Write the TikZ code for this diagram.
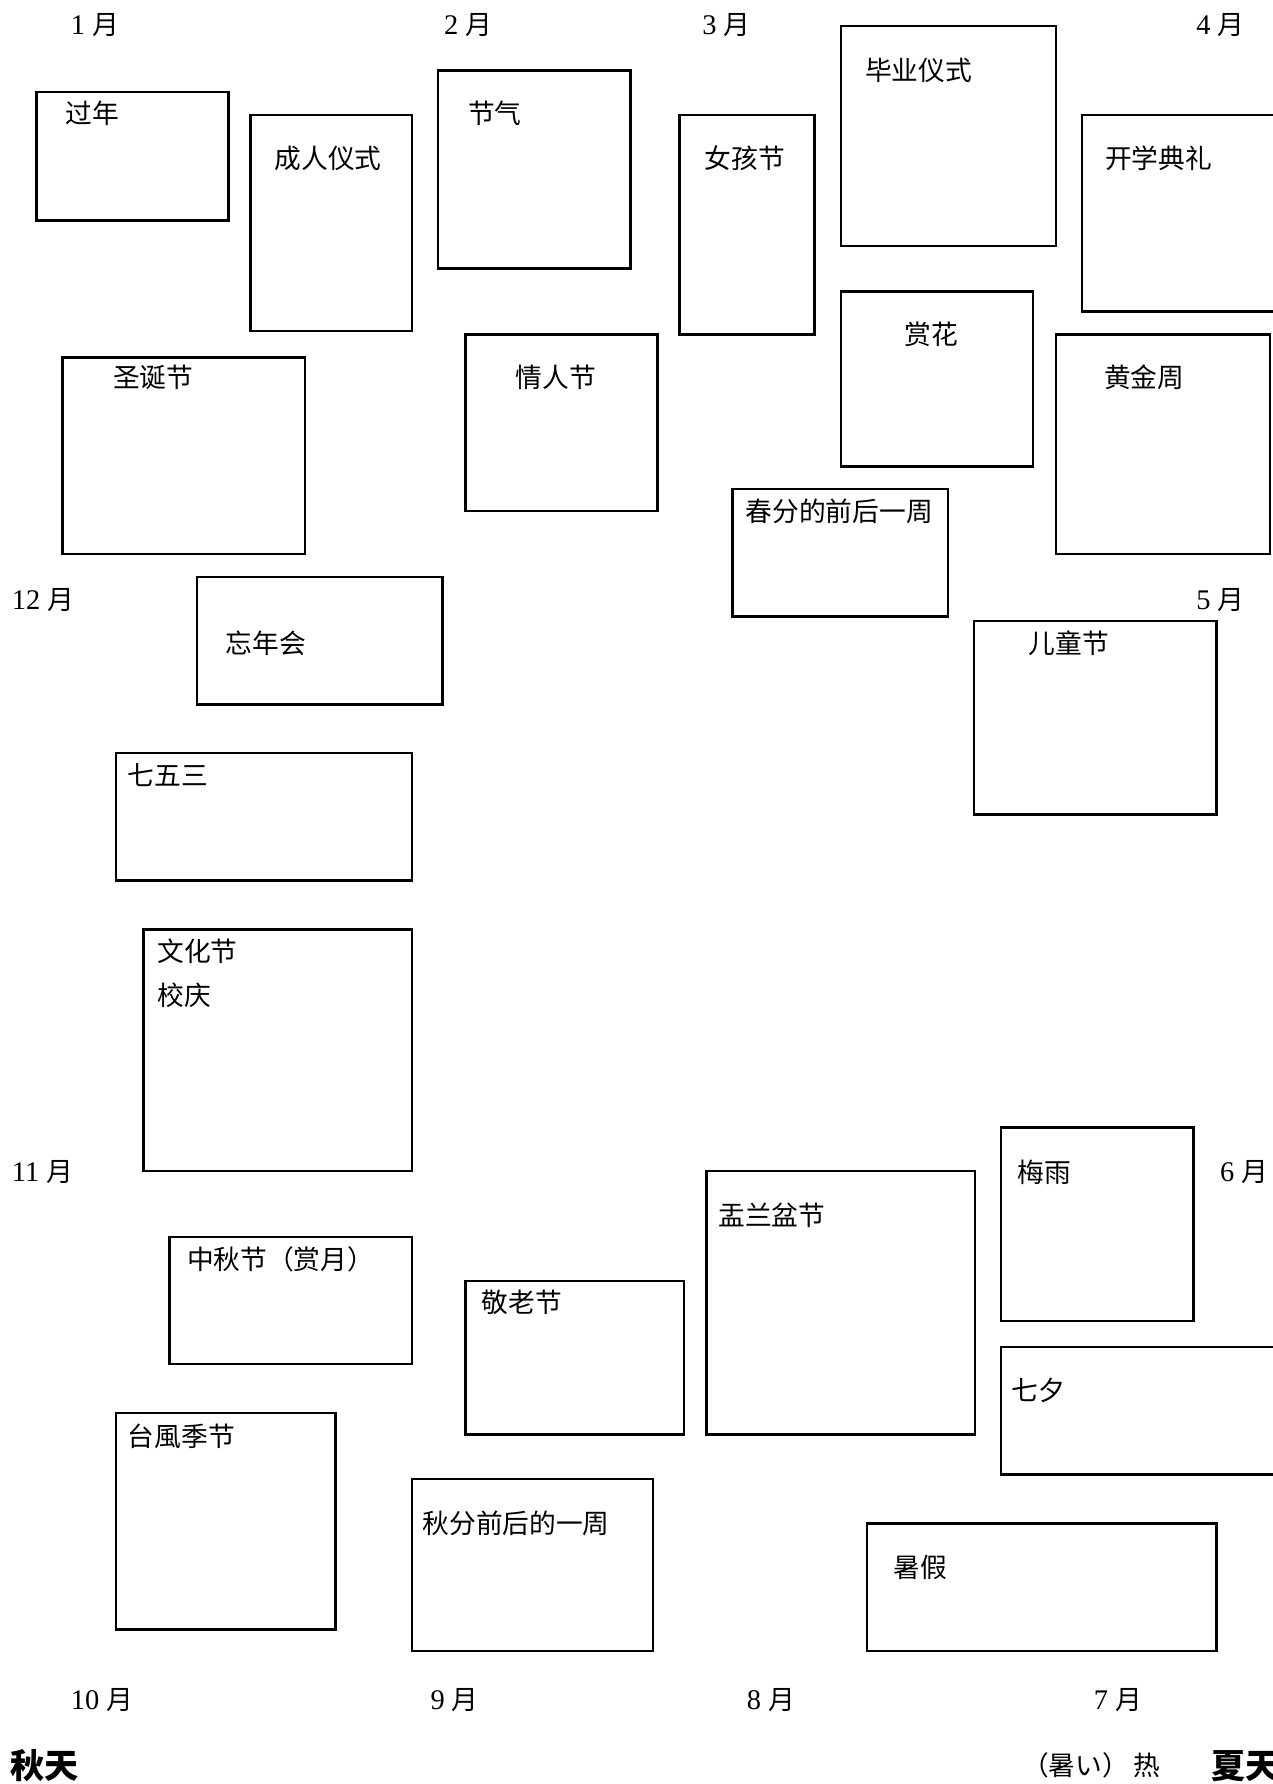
\documentclass[tikz,border=0pt]{standalone}
\usepackage{fontspec}
\setmainfont{Liberation Serif}
\newfontfamily\cjk{Noto Sans CJK SC}
\usetikzlibrary{positioning,fit}
\tikzset{evt/.style={draw, line width=1.1pt, inner sep=0pt},
         txt/.style={inner sep=0pt, anchor=west, font=\cjk\fontsize{11.75}{14}\selectfont},
         mon/.style={inner sep=0pt, anchor=west, font=\fontsize{12.5}{14}\selectfont},
         season/.style={inner sep=0pt, anchor=west, font=\cjk\bfseries\fontsize{15}{18}\selectfont}}
\newcommand{\yue}[1]{#1\ {\cjk\fontsize{11.75}{14}\selectfont 月}}

\begin{document}
\begin{tikzpicture}[x=0.5pt, y=-0.5pt]
				\useasboundingbox (0,0) rectangle (1118,1568);
				% months round the page
				\node (m1) 	[mon] at (62,22) 		{\yue{1}};
				\node (m2) 	[mon] at (390,22) 	{\yue{2}};
				\node (m3) 	[mon] at (617,22) 	{\yue{3}};
				\node (m4) 	[mon] at (1051,22) 	{\yue{4}};
				\node (m5) 	[mon] at (1051,527) 	{\yue{5}};
				\node (m6) 	[mon] at (1072,1030) 	{\yue{6}};
				\node (m7) 	[mon] at (961,1494) 	{\yue{7}};
				\node (m8) 	[mon] at (656,1494) 	{\yue{8}};
				\node (m9) 	[mon] at (378,1494) 	{\yue{9}};
				\node (m10) [mon] at (62,1494) 	{\yue{10}};
				\node (m11) [mon] at (10,1030) 	{\yue{11}};
				\node (m12) [mon] at (10,527) 	{\yue{12}};
				% boxes
				\node (guonian) 	[evt, fit={(32,81) (201,194)}] 		{};
				\node (chengren) 	[evt, fit={(220,101) (362,291)}] 	{};
				\node (jieqi) 		[evt, fit={(385,62) (554,236)}] 		{};
				\node (nvhai) 		[evt, fit={(597,101) (716,294)}] 	{};
				\node (biye) 			[evt, fit={(739,23) (928,216)}] 		{};
				\node (kaixue) 		[evt, fit={(951,101) (1130,274)}] 	{};
				\node (shanghua) 	[evt, fit={(739,256) (908,410)}] 	{};
				\node (huangjin) 	[evt, fit={(928,294) (1116,487)}] 	{};
				\node (shengdan) 	[evt, fit={(55,314) (268,487)}] 		{};
				\node (qingren) 	[evt, fit={(409,294) (578,449)}] 	{};
				\node (chunfen) 	[evt, fit={(644,430) (833,542)}] 	{};
				\node (wangnian) 	[evt, fit={(173,507) (389,619)}] 	{};
				\node (ertong) 		[evt, fit={(856,546) (1069,716)}] 	{};
				\node (qiwusan) 	[evt, fit={(102,662) (362,774)}] 	{};
				\node (wenhua) 		[evt, fit={(126,817) (362,1029)}] 	{};
				\node (meiyu) 		[evt, fit={(880,991) (1049,1161)}] 	{};
				\node (yulanpen) 	[evt, fit={(621,1029) (857,1261)}] 	{};
				\node (zhongqiu) 	[evt, fit={(149,1087) (362,1199)}] 	{};
				\node (jinglao) 	[evt, fit={(409,1126) (601,1261)}] 	{};
				\node (qixi) 			[evt, fit={(880,1184) (1130,1296)}] 	{};
				\node (taifeng) 	[evt, fit={(102,1242) (295,1432)}] 	{};
				\node (qiufen) 		[evt, fit={(362,1300) (574,1451)}] 	{};
				\node (shujia) 		[evt, fit={(762,1339) (1069,1451)}] 	{};
				% texts in the boxes
				\node (guonianT) 	[txt] at (57,100) 		{过年};
				\node (chengrenT) [txt] at (241,139) 		{成人仪式};
				\node (jieqiT) 		[txt] at (411,100) 		{节气};
				\node (nvhaiT) 		[txt] at (619,139) 		{女孩节};
				\node (biyeT) 		[txt] at (760,62) 		{毕业仪式};
				\node (kaixueT) 	[txt] at (971,139) 		{开学典礼};
				\node (shanghuaT) [txt] at (795,294) 		{赏花};
				\node (huangjinT) [txt] at (970,332) 		{黄金周};
				\node (shengdanT) [txt] at (99,332) 		{圣诞节};
				\node (qingrenT) 	[txt] at (453,332) 		{情人节};
				\node (chunfenT) 	[txt] at (655,449) 		{春分的前后一周};
				\node (wangnianT) [txt] at (198,565) 		{忘年会};
				\node (ertongT) 	[txt] at (904,565) 		{儿童节};
				\node (qiwusanT) 	[txt] at (112,681) 		{七五三};
				\node (wenhuaT) 	[txt] at (138,836) 		{文化节};
				\node (xiaoqingT) [txt] at (138,875) 		{校庆};
				\node (meiyuT) 		[txt] at (894,1030) 	{梅雨};
				\node (yulanpenT) [txt] at (631,1068) 	{盂兰盆节};
				\node (zhongqiuT) [txt] at (164,1107) 	{中秋节（赏月）};
				\node (jinglaoT) 	[txt] at (423,1145) 	{敬老节};
				\node (qixiT) 		[txt] at (889,1222) 	{七夕};
				\node (taifengT) 	[txt] at (112,1262) 	{台風季节};
				\node (qiufenT) 	[txt] at (371,1339) 	{秋分前后的一周};
				\node (shujiaT) 	[txt] at (785,1378) 	{暑假};
				% seasons along the foot
				\node (qiutian) 	[season] at (9,1552) 	{秋天};
				\node (shu) 			[txt] at (898,1552) 	{（暑い）\,热};
				\node (xiatian) 	[season] at (1064,1552) {夏天};
\end{tikzpicture}
\end{document}
